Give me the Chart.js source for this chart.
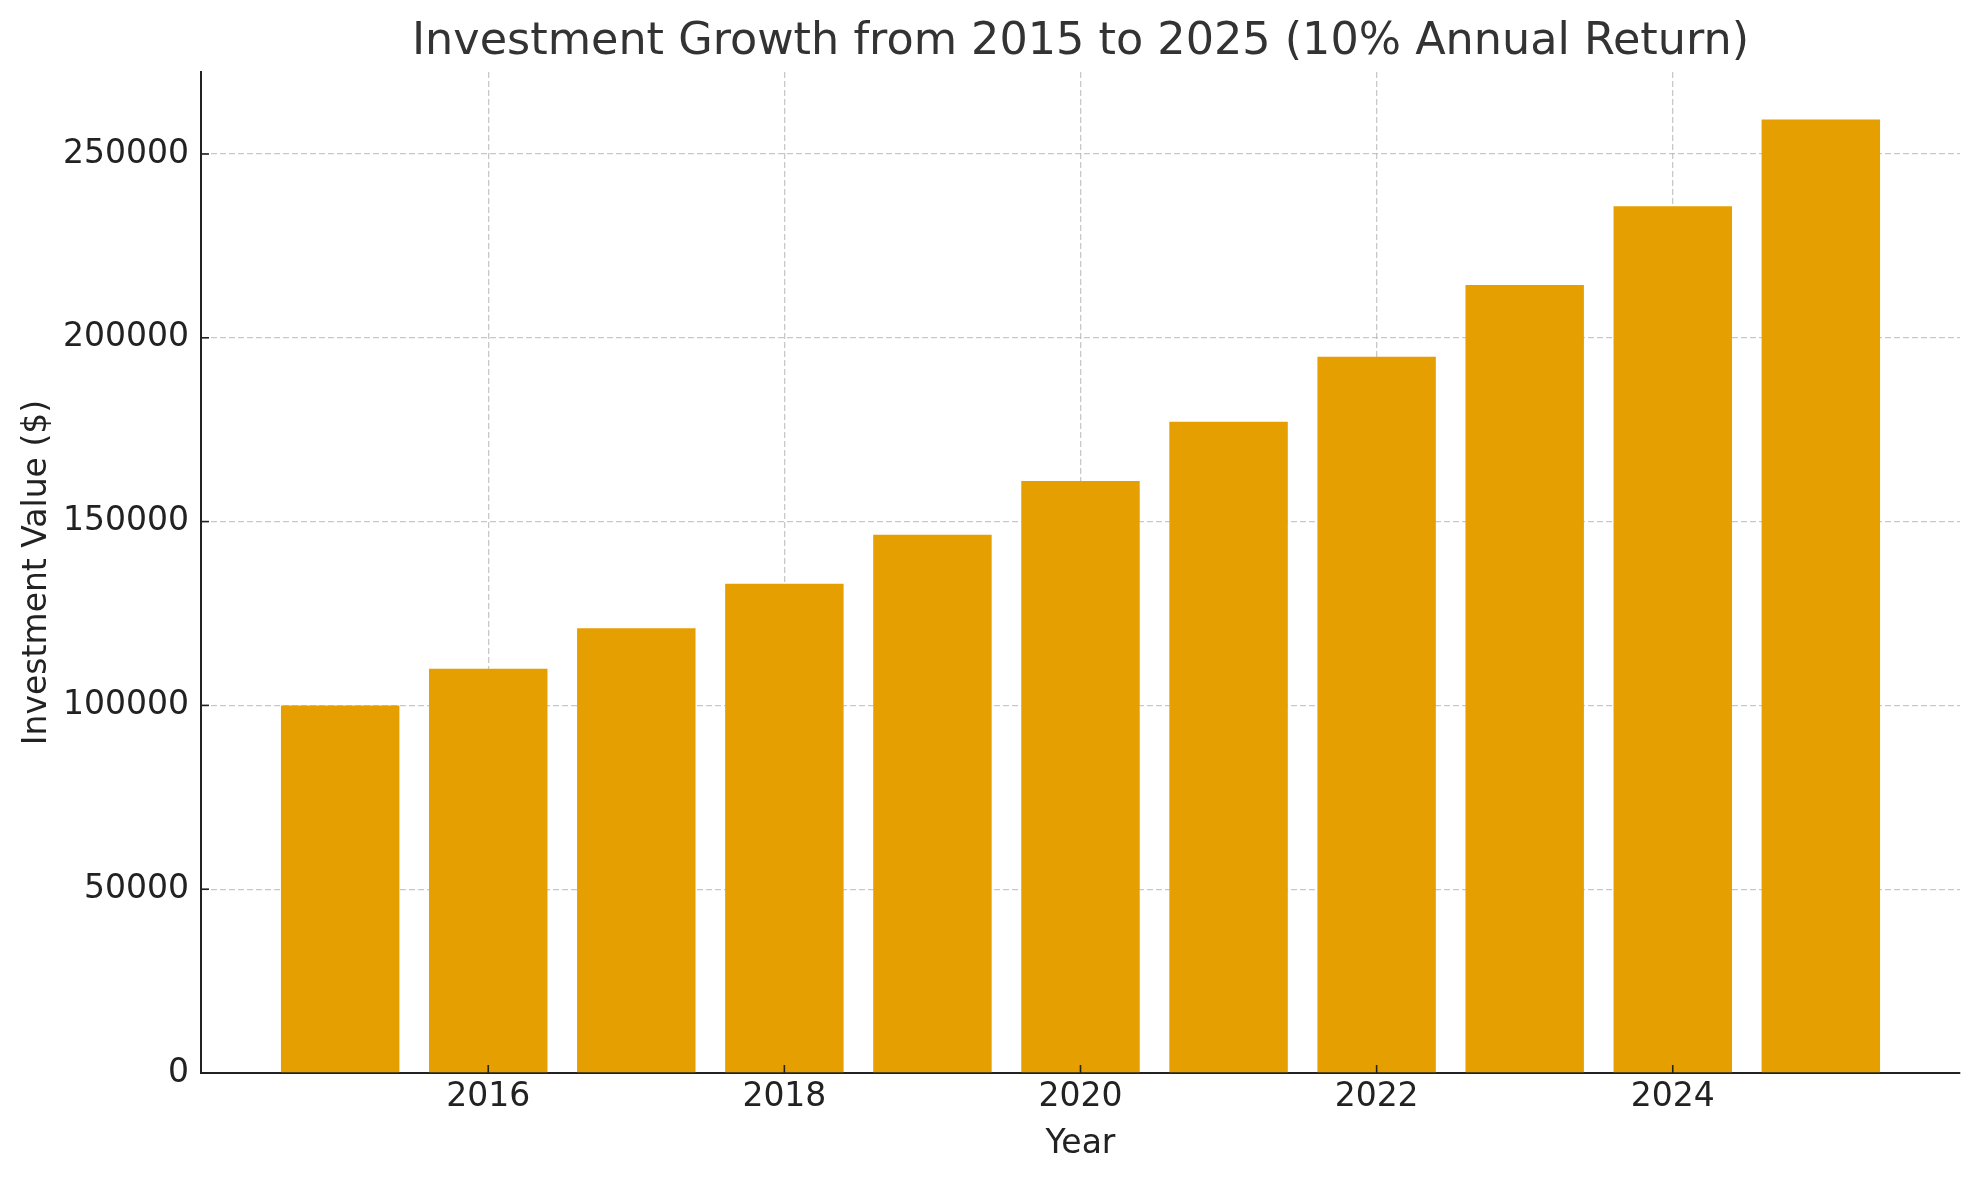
<!DOCTYPE html>
<html>
<head>
<meta charset="utf-8">
<script src="https://cdn.jsdelivr.net/npm/chart.js@4.4.1/dist/chart.umd.min.js"></script>
<style>
  html, body { margin: 0; padding: 0; background: #fff; }
  #chart { display: block; }
</style>
</head>
<body>
<canvas id="chart" width="1979" height="1180"></canvas>
<script>
// Datos
const years = [2015, 2016, 2017, 2018, 2019, 2020, 2021, 2022, 2023, 2024, 2025];
const values = [100000, 110000, 121000, 133100, 146400, 161050, 177150, 194870, 214360, 235790, 259370];
const xTicks = [2016, 2018, 2020, 2022, 2024];
const yTicks = [0, 50000, 100000, 150000, 200000, 250000];

const fontFamily = '"DejaVu Sans", sans-serif';
const gridColor = 'rgba(176, 176, 176, 0.7)';

// Marcas de graduación hacia dentro (como en matplotlib)
const innerTicks = {
    id: 'innerTicks',
    afterDraw(chart) {
        const { ctx, chartArea, scales } = chart;
        ctx.save();
        ctx.strokeStyle = '#222';
        ctx.lineWidth = 1.6;
        scales.x.ticks.forEach(t => {
            const px = scales.x.getPixelForValue(t.value);
            ctx.beginPath();
            ctx.moveTo(px, chartArea.bottom);
            ctx.lineTo(px, chartArea.bottom - 8);
            ctx.stroke();
        });
        scales.y.ticks.forEach(t => {
            const py = scales.y.getPixelForValue(t.value);
            ctx.beginPath();
            ctx.moveTo(chartArea.left, py);
            ctx.lineTo(chartArea.left + 8, py);
            ctx.stroke();
        });
        ctx.restore();
    }
};

new Chart(document.getElementById('chart'), {
    type: 'bar',
    data: {
        datasets: [{
            data: years.map((y, i) => ({ x: y, y: values[i] })),
            backgroundColor: '#E69F00',
            borderWidth: 0,
            categoryPercentage: 1,
            barPercentage: 0.8
        }]
    },
    options: {
        responsive: false,
        animation: false,
        devicePixelRatio: 1,
        layout: { padding: { left: 0, right: 19, top: 0, bottom: 0 } },
        plugins: {
            legend: { display: false },
            tooltip: { enabled: false },
            title: {
                display: true,
                fullSize: false,
                text: 'Investment Growth from 2015 to 2025 (10% Annual Return)',
                color: '#333',
                font: { family: fontFamily, size: 44.5, weight: 'normal' },
                padding: { top: 16, bottom: 2.6 }
            }
        },
        scales: {
            x: {
                type: 'linear',
                min: 2014.06,
                max: 2025.94,
                offset: false,
                z: 1,
                afterBuildTicks: s => { s.ticks = xTicks.map(v => ({ value: v })); },
                afterFit: s => { s.height = 107; },
                ticks: {
                    color: '#222',
                    font: { family: fontFamily, size: 33 },
                    padding: 5,
                    maxRotation: 0,
                    callback: v => String(v)
                },
                grid: { offset: false, color: gridColor, lineWidth: 1.3, drawTicks: false },
                border: { display: true, color: '#222', width: 2, dash: [6, 3] },
                title: {
                    display: true,
                    text: 'Year',
                    color: '#222',
                    font: { family: fontFamily, size: 33 },
                    padding: { top: 0, bottom: 16 }
                }
            },
            y: {
                type: 'linear',
                min: 0,
                max: 272300,
                z: 1,
                afterBuildTicks: s => { s.ticks = yTicks.map(v => ({ value: v })); },
                afterFit: s => { s.width = 201; },
                ticks: {
                    color: '#222',
                    font: { family: fontFamily, size: 33 },
                    padding: 12,
                    callback: v => String(v)
                },
                grid: { color: gridColor, lineWidth: 1.3, drawTicks: false },
                border: { display: true, color: '#222', width: 2, dash: [6, 3] },
                title: {
                    display: true,
                    text: 'Investment Value ($)',
                    color: '#222',
                    font: { family: fontFamily, size: 33 },
                    padding: { top: 18, bottom: 0 }
                }
            }
        }
    },
    plugins: [innerTicks]
});
</script>
</body>
</html>
